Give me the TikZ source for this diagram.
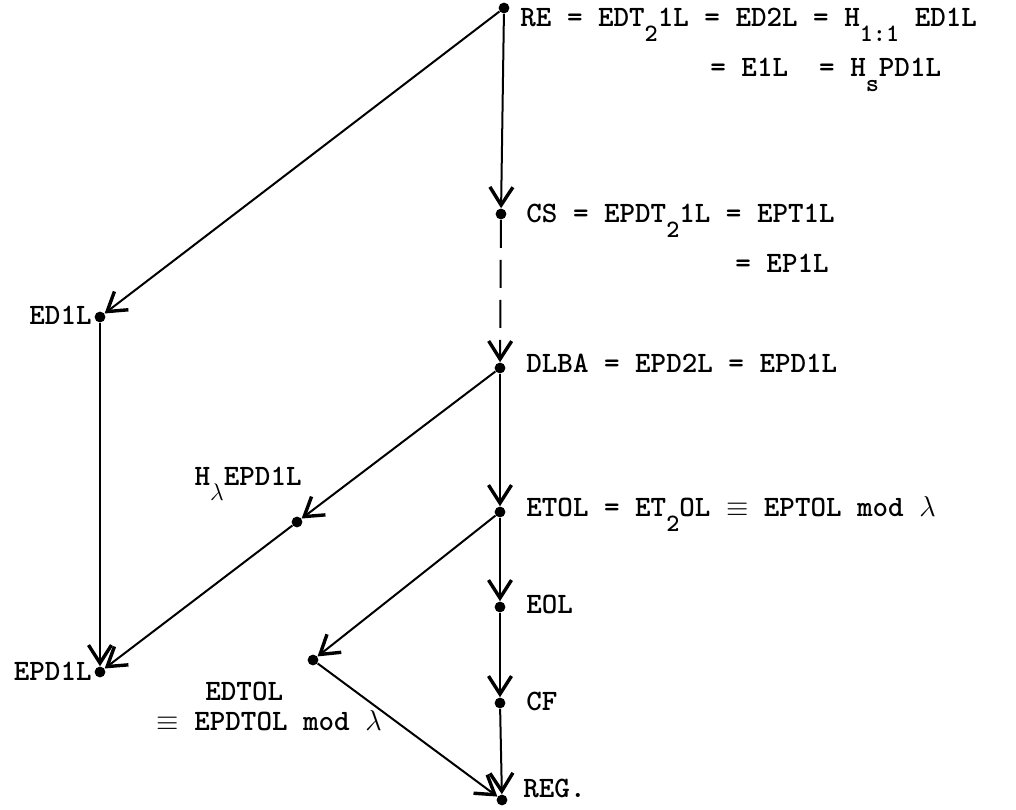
\documentclass[tikz,border=0pt]{standalone}
\usetikzlibrary{arrows.meta}
% lowered index, typewriter style (half-line down)
\newcommand\lo[1]{\raisebox{-7.5pt}{\fontsize{12.5}{13}\selectfont #1}}
\begin{document}
\begin{tikzpicture}[x=0.5pt,y=-0.5pt,
  dot/.style={circle,fill,inner sep=0pt,minimum size=5.4pt},
  lbl/.style={inner sep=0pt,font=\fontsize{14.8}{17}\fontseries{b}\selectfont\ttfamily},
  arr/.style={line width=1pt,-{Straight Barb[length=9pt,width=11.5pt,line width=1.7pt]}},
  brokenline/.style={dash pattern=on 14pt off 6pt}]
\useasboundingbox (0,0) rectangle (1016,809);

% language classes (points)
\node[dot] (re)    at (504,8)   {};
\node[dot] (cs)    at (501,214) {};
\node[dot] (dlba)  at (500,368) {};
\node[dot] (etol)  at (500,512) {};
\node[dot] (eol)   at (500,607) {};
\node[dot] (cf)    at (500,703) {};
\node[dot] (reg)   at (502,800) {};
\node[dot] (edil)  at (100,317) {};
\node[dot] (epdil) at (100,672) {};
\node[dot] (hl)    at (297,522) {};
\node[dot] (edtol) at (313,660) {};

% inclusions
\draw[arr] (re) -- (cs);
\draw[arr] (re) -- (edil);
\draw[arr,brokenline] (cs) -- (dlba);
\draw[arr] (dlba) -- (etol);
\draw[arr] (dlba) -- (hl);
\draw[arr] (hl) -- (epdil);
\draw[arr] (edil) -- (epdil);
\draw[arr] (etol) -- (eol);
\draw[arr] (etol) -- (edtol);
\draw[arr] (eol) -- (cf);
\draw[arr] (cf) -- (reg);
\draw[arr] (edtol) -- (reg);

% labels
\node[lbl,anchor=base west] (tre1) at (520,26) {RE = EDT\lo{2}1L = ED2L = H\lo{1:1} ED1L};
\node[lbl,anchor=base west] (tre2) at (710,76) {= E1L~ = H\lo{s}PD1L};
\node[lbl,anchor=base west] (tcs1) at (526,222) {CS = EPDT\lo{2}1L = EPT1L};
\node[lbl,anchor=base west] (tcs2) at (735,272) {= EP1L};
\node[lbl,anchor=base west] (tdlba) at (526,372) {DLBA = EPD2L = EPD1L};
\node[lbl,anchor=base west] (tetol) at (526,516) {ETOL = ET\lo{2}OL $\equiv$ EPTOL mod $\lambda$};
\node[lbl,anchor=base west] (teol) at (526,613) {EOL};
\node[lbl,anchor=base west] (tcf) at (526,710) {CF};
\node[lbl,anchor=base west] (treg) at (523,797) {REG.};
\node[lbl,anchor=base east] (tedil) at (92,324) {ED1L};
\node[lbl,anchor=base east] (tepdil) at (92,680) {EPD1L};
\node[lbl,anchor=base east] (thl) at (302,485) {H\lo{$\lambda$}EPD1L};
\node[lbl,anchor=base west] (tedtol1) at (205,700) {EDTOL};
\node[lbl,anchor=base west] (tedtol2) at (156,730) {$\equiv$ EPDTOL mod $\lambda$};
\end{tikzpicture}
\end{document}
